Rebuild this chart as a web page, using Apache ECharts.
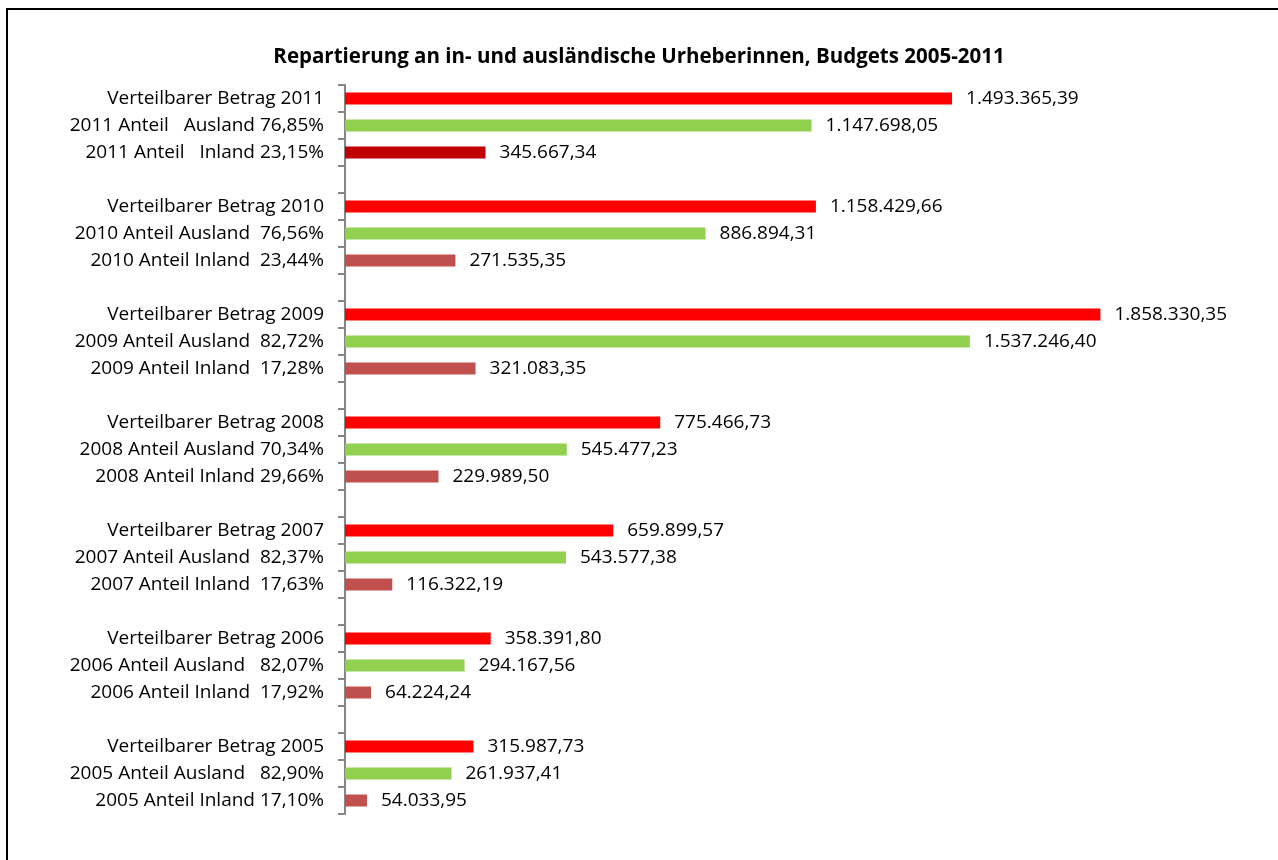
<!DOCTYPE html>
<html>
<head>
<meta charset="utf-8">
<script src="https://cdn.jsdelivr.net/npm/echarts@6/dist/echarts.min.js"></script>
<style>
  html, body { margin: 0; padding: 0; background: #fff; }
  #chart { width: 1278px; height: 860px; }
</style>
</head>
<body>
<div id="chart"></div>
<script>
// Budgets per year, top group first
const years = [2011, 2010, 2009, 2008, 2007, 2006, 2005];
const betrag = [1493365.39, 1158429.66, 1858330.35, 775466.73, 659899.57, 358391.80, 315987.73];
const ausland = [1147698.05, 886894.31, 1537246.40, 545477.23, 543577.38, 294167.56, 261937.41];
const inland = [345667.34, 271535.35, 321083.35, 229989.50, 116322.19, 64224.24, 54033.95];

// Row labels
const betragLabels = years.map(y => 'Verteilbarer Betrag ' + y);
const auslandLabels = [
  '2011 Anteil   Ausland 76,85%',
  '2010 Anteil Ausland  76,56%',
  '2009 Anteil Ausland  82,72%',
  '2008 Anteil Ausland 70,34%',
  '2007 Anteil Ausland  82,37%',
  '2006 Anteil Ausland   82,07%',
  '2005 Anteil Ausland   82,90%'
];
const inlandLabels = [
  '2011 Anteil   Inland 23,15%',
  '2010 Anteil Inland  23,44%',
  '2009 Anteil Inland  17,28%',
  '2008 Anteil Inland 29,66%',
  '2007 Anteil Inland  17,63%',
  '2006 Anteil Inland  17,92%',
  '2005 Anteil Inland 17,10%'
];

const FONT = '"Open Sans", Lato, sans-serif';

// Category rows: three bars per year, an empty row between years
const categories = [];
const betragData = [], auslandData = [], inlandData = [];
years.forEach((y, i) => {
  categories.push(betragLabels[i], auslandLabels[i], inlandLabels[i]);
  betragData.push(betrag[i], null, null);
  auslandData.push(null, ausland[i], null);
  inlandData.push(null, null, i === 0
    ? { value: inland[i], itemStyle: { color: '#C00000' } }
    : inland[i]);
  if (i < years.length - 1) {
    categories.push(' '.repeat(i + 1));
    betragData.push(null); auslandData.push(null); inlandData.push(null);
  }
});

function fmtDe(v) {
  const parts = v.toFixed(2).split('.');
  const intPart = parts[0].replace(/\B(?=(\d{3})+(?!\d))/g, '.');
  return intPart + ',' + parts[1];
}

const valueLabel = {
  show: true,
  position: 'right',
  distance: 14,
  color: '#000',
  fontFamily: FONT,
  fontSize: 19,
  formatter: p => fmtDe(p.value)
};

function barSeries(name, data, color) {
  return {
    name, type: 'bar', data,
    barWidth: 12, barGap: '-100%',
    itemStyle: { color },
    label: valueLabel,
    animation: false
  };
}

const chart = echarts.init(document.getElementById('chart'));
chart.setOption({
  backgroundColor: '#fff',
  title: {
    text: 'Repartierung an in- und ausländische Urheberinnen, Budgets 2005-2011',
    left: 'center',
    top: 42,
    textStyle: { fontFamily: FONT, fontSize: 20.5, fontWeight: 'bold', color: '#000' }
  },
  graphic: [{
    type: 'rect',
    shape: { x: 7, y: 9, width: 1320, height: 900 },
    style: { fill: 'none', stroke: '#000', lineWidth: 2 },
    silent: true
  }],
  grid: { left: 345, right: 120, top: 85, bottom: 46 },
  xAxis: {
    type: 'value', min: 0, max: 2000000,
    show: false
  },
  yAxis: {
    type: 'category',
    inverse: true,
    data: categories,
    axisLine: { show: true, lineStyle: { color: '#868686', width: 2 } },
    axisTick: { show: true, length: 7, alignWithLabel: false, lineStyle: { color: '#868686', width: 2 } },
    axisLabel: { color: '#000', fontFamily: FONT, fontSize: 19, margin: 21, interval: 0 },
    splitLine: { show: false }
  },
  series: [
    barSeries('Verteilbarer Betrag', betragData, '#FF0000'),
    barSeries('Anteil Ausland', auslandData, '#92D050'),
    barSeries('Anteil Inland', inlandData, '#C0504D')
  ]
});
</script>
</body>
</html>
